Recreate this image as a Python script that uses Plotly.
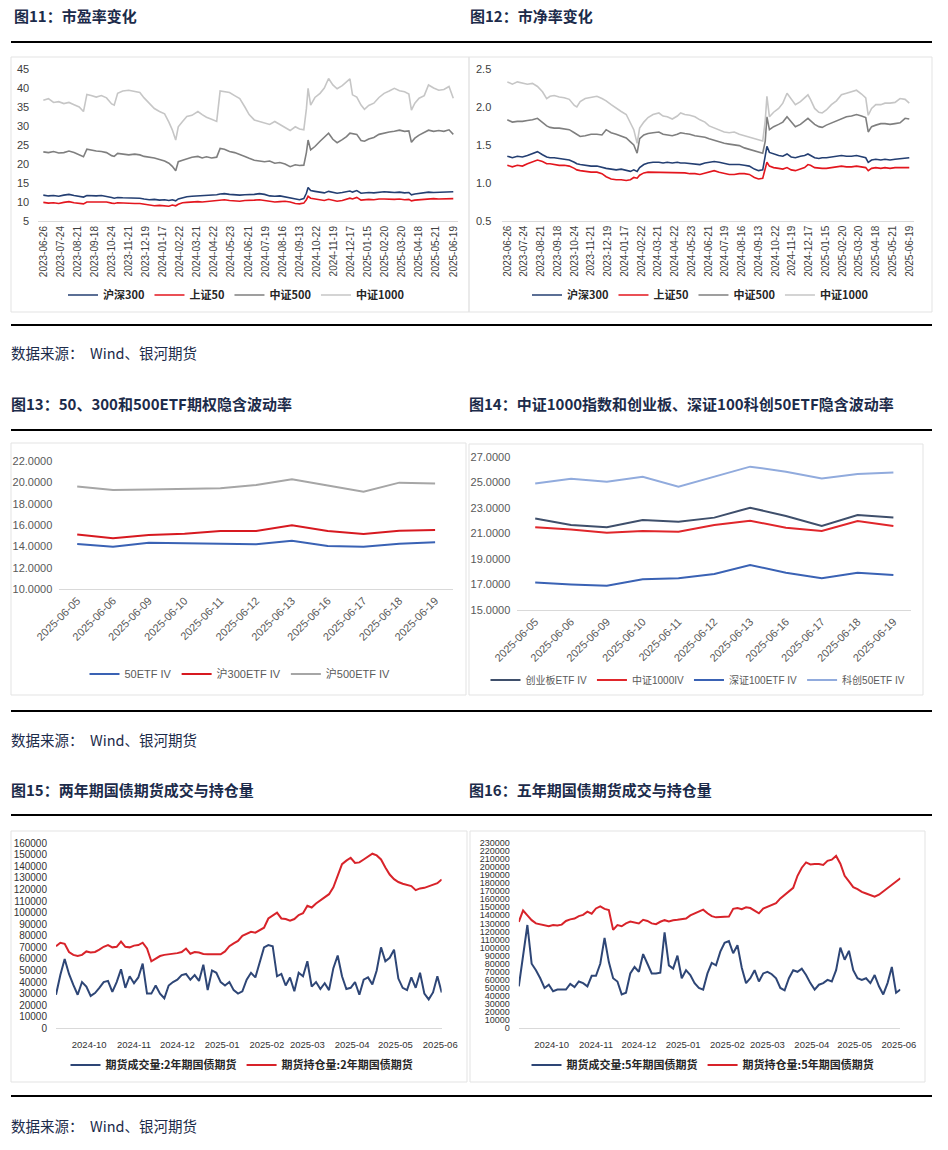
import plotly.graph_objects as go
import pandas as pd

W, H = 948, 1150

# ---------------- data: PE / PB (trading-day index, 20 days per label) ----------------
pe_tick_labels = ["2023-06-26", "2023-07-24", "2023-08-21", "2023-09-18", "2023-10-24", "2023-11-21",
                  "2023-12-19", "2024-01-17", "2024-02-22", "2024-03-21", "2024-04-22", "2024-05-23",
                  "2024-06-21", "2024-07-19", "2024-08-16", "2024-09-13", "2024-10-22", "2024-11-19",
                  "2024-12-17", "2025-01-15", "2025-02-20", "2025-03-20", "2025-04-18", "2025-05-21",
                  "2025-06-19"]
day_idx = [0, 6, 12, 18, 24, 30, 36, 42, 47, 51,
           56, 62, 68, 74, 80, 83, 87, 93, 100, 107,
           113, 118, 124, 130, 136, 142, 147, 151, 155, 158,
           163, 168, 174, 181, 186, 191, 197, 203, 207, 212,
           218, 224, 230, 236, 241, 247, 253, 259, 265, 271,
           277, 283, 289, 295, 300, 305, 308, 310, 313, 318,
           324, 329, 334, 339, 344, 350, 355, 359, 362, 367,
           372, 376, 381, 387, 393, 399, 405, 411, 417, 423,
           428, 431, 435, 440, 446, 451, 457, 463, 469, 475,
           480]

pe_hs300 = [11.8, 11.6, 11.7, 11.5, 11.8, 12.0, 11.7, 11.4, 11.3, 11.7,
            11.6, 11.6, 11.7, 11.5, 11.2, 11.0, 11.2, 11.1, 11.1, 11.0,
            11.0, 10.8, 10.6, 10.7, 10.5, 10.6, 10.4, 10.6, 10.3, 10.8,
            11.2, 11.4, 11.5, 11.6, 11.5, 11.7, 11.8, 11.9, 12.1, 12.2,
            12.0, 11.9, 11.8, 11.9, 11.9, 12.0, 12.2, 12.0, 11.6, 11.5,
            11.6, 11.3, 11.0, 10.8, 10.6, 10.9, 12.3, 13.8, 13.0, 12.8,
            12.6, 12.4, 12.8, 12.5, 12.3, 12.5, 12.7, 12.9, 12.6, 13.0,
            12.3, 12.4, 12.5, 12.4, 12.6, 12.7, 12.6, 12.5, 12.6, 12.4,
            12.5, 11.9, 12.1, 12.3, 12.4, 12.6, 12.5, 12.6, 12.6, 12.8,
            12.7]
pe_sz50 = [9.9, 9.7, 9.8, 9.6, 9.9, 10.1, 9.8, 9.6, 9.5, 10.0,
           10.0, 10.1, 10.1, 10.0, 9.7, 9.6, 9.8, 9.7, 9.7, 9.6,
           9.6, 9.4, 9.1, 9.0, 9.1, 9.0, 8.9, 9.2, 9.0, 9.4,
           9.8, 9.9, 10.0, 10.1, 10.0, 10.1, 10.3, 10.4, 10.5, 10.6,
           10.4, 10.3, 10.2, 10.4, 10.4, 10.5, 10.6, 10.4, 10.1, 10.0,
           10.1, 10.2, 10.0, 9.6, 9.5, 9.7, 10.6, 11.5, 11.0, 10.8,
           10.6, 10.4, 10.7, 10.5, 10.2, 10.4, 10.7, 11.0, 10.8, 11.2,
           10.5, 10.6, 10.7, 10.6, 10.8, 10.8, 10.7, 10.7, 10.8, 10.6,
           10.7, 10.3, 10.5, 10.6, 10.8, 10.9, 10.9, 10.8, 10.9, 11.0,
           10.9]
pe_csi500 = [23.2, 23.0, 23.3, 22.9, 23.0, 23.4, 23.0, 22.4, 21.9, 23.9,
             23.6, 23.4, 23.3, 23.0, 22.2, 22.0, 22.8, 22.6, 22.4, 22.6,
             22.4, 22.0, 21.8, 21.6, 21.2, 20.8, 20.2, 19.4, 18.2, 20.6,
             21.0, 21.4, 21.8, 22.0, 21.6, 21.9, 21.6, 21.8, 24.1, 23.9,
             23.3, 23.0, 22.6, 22.0, 21.5, 21.0, 20.8, 20.6, 20.8, 20.2,
             20.4, 20.0, 19.3, 19.8, 19.6, 19.7, 23.0, 26.3, 23.7, 24.6,
             26.0, 27.0, 28.1, 26.5, 25.6, 26.4, 27.2, 28.1, 28.0, 27.8,
             26.2, 26.0, 26.6, 27.0, 27.8, 28.2, 28.4, 28.6, 28.9, 28.6,
             28.7, 25.7, 26.8, 27.6, 28.2, 28.9, 28.6, 28.8, 28.6, 29.0,
             27.8]
pe_csi1000 = [36.8, 37.2, 36.2, 36.4, 35.9, 36.2, 35.6, 35.0, 33.8, 38.3,
              38.0, 37.6, 38.0, 37.4, 35.8, 35.5, 38.6, 39.2, 39.4, 39.0,
              38.8, 37.4, 36.0, 34.6, 33.8, 33.2, 31.0, 29.0, 26.3, 29.8,
              31.2, 32.5, 32.8, 33.8, 33.0, 32.3, 31.8, 31.2, 39.2, 39.0,
              38.8, 38.0, 37.2, 35.0, 33.0, 31.6, 31.2, 30.8, 30.4, 31.2,
              30.4, 29.8, 28.8, 29.8, 29.2, 29.0, 34.5, 39.9, 35.5, 37.5,
              38.6, 40.0, 42.5, 40.8, 39.8, 40.6, 41.5, 42.4, 38.2, 37.6,
              35.5, 34.4, 35.4, 36.0, 37.5, 38.6, 39.2, 39.9, 39.3, 39.0,
              38.4, 34.2, 36.0, 37.3, 38.0, 40.8, 40.0, 39.4, 39.6, 40.4,
              37.3]

pb_hs300 = [1.35, 1.33, 1.35, 1.34, 1.36, 1.38, 1.41, 1.37, 1.34, 1.33,
            1.33, 1.32, 1.31, 1.30, 1.27, 1.25, 1.24, 1.23, 1.22, 1.22,
            1.20, 1.19, 1.18, 1.17, 1.18, 1.16, 1.15, 1.17, 1.15, 1.20,
            1.24, 1.26, 1.27, 1.27, 1.26, 1.27, 1.26, 1.27, 1.26, 1.26,
            1.25, 1.25, 1.24, 1.26, 1.27, 1.28, 1.27, 1.25, 1.24, 1.24,
            1.24, 1.23, 1.22, 1.18, 1.16, 1.17, 1.35, 1.48, 1.40, 1.38,
            1.36, 1.35, 1.38, 1.34, 1.33, 1.35, 1.36, 1.38, 1.36, 1.33,
            1.32, 1.33, 1.33, 1.34, 1.35, 1.36, 1.35, 1.35, 1.36, 1.34,
            1.33, 1.27, 1.30, 1.31, 1.30, 1.31, 1.30, 1.31, 1.32, 1.33,
            1.33]
pb_sz50 = [1.23, 1.21, 1.23, 1.22, 1.25, 1.27, 1.30, 1.28, 1.25, 1.25,
           1.24, 1.23, 1.23, 1.22, 1.19, 1.17, 1.16, 1.15, 1.14, 1.14,
           1.12, 1.08, 1.05, 1.04, 1.04, 1.03, 1.04, 1.07, 1.06, 1.10,
           1.13, 1.14, 1.14, 1.13, 1.13, 1.14, 1.13, 1.14, 1.13, 1.13,
           1.12, 1.12, 1.11, 1.13, 1.14, 1.16, 1.14, 1.12, 1.11, 1.11,
           1.12, 1.12, 1.11, 1.07, 1.05, 1.06, 1.18, 1.27, 1.22, 1.20,
           1.19, 1.18, 1.20, 1.17, 1.16, 1.18, 1.20, 1.24, 1.23, 1.20,
           1.19, 1.19, 1.19, 1.20, 1.21, 1.22, 1.21, 1.21, 1.22, 1.21,
           1.20, 1.16, 1.19, 1.20, 1.19, 1.20, 1.19, 1.20, 1.20, 1.20,
           1.20]
pb_csi500 = [1.83, 1.80, 1.81, 1.81, 1.82, 1.83, 1.85, 1.80, 1.75, 1.73,
             1.72, 1.72, 1.71, 1.70, 1.66, 1.64, 1.61, 1.62, 1.64, 1.64,
             1.63, 1.70, 1.66, 1.64, 1.62, 1.59, 1.54, 1.50, 1.39, 1.58,
             1.63, 1.65, 1.66, 1.67, 1.64, 1.63, 1.62, 1.64, 1.66, 1.65,
             1.64, 1.62, 1.61, 1.60, 1.58, 1.56, 1.53, 1.52, 1.51, 1.50,
             1.49, 1.46, 1.44, 1.42, 1.41, 1.39, 1.55, 1.87, 1.70, 1.74,
             1.77, 1.80, 1.87, 1.80, 1.74, 1.77, 1.81, 1.85, 1.82, 1.77,
             1.74, 1.73, 1.76, 1.79, 1.82, 1.85, 1.87, 1.88, 1.90, 1.88,
             1.86, 1.67, 1.74, 1.76, 1.78, 1.78, 1.77, 1.78, 1.79, 1.85,
             1.84]
pb_csi1000 = [2.33, 2.30, 2.33, 2.31, 2.30, 2.31, 2.27, 2.20, 2.11, 2.14,
              2.15, 2.13, 2.12, 2.10, 2.02, 2.00, 2.07, 2.11, 2.13, 2.14,
              2.11, 2.08, 2.03, 1.98, 1.94, 1.90, 1.80, 1.70, 1.52, 1.72,
              1.80, 1.86, 1.90, 1.92, 1.88, 1.87, 1.84, 1.88, 1.92, 1.90,
              1.89, 1.87, 1.83, 1.80, 1.75, 1.72, 1.70, 1.67, 1.66, 1.67,
              1.64, 1.62, 1.60, 1.58, 1.57, 1.55, 1.82, 2.14, 1.87, 1.93,
              1.98, 2.05, 2.18, 2.10, 2.03, 2.07, 2.12, 2.16, 2.10, 1.98,
              1.93, 1.92, 1.96, 2.03, 2.08, 2.16, 2.18, 2.20, 2.22, 2.17,
              2.12, 1.89, 1.98, 2.03, 2.03, 2.05, 2.05, 2.06, 2.11, 2.10,
              2.05]

# ---------------- data: ETF implied volatility ----------------
iv_dates = ["2025-06-05", "2025-06-06", "2025-06-09", "2025-06-10", "2025-06-11", "2025-06-12",
            "2025-06-13", "2025-06-16", "2025-06-17", "2025-06-18", "2025-06-19"]
iv_50etf = [14.22, 13.97, 14.34, 14.28, 14.28, 14.19, 14.53, 14.03, 13.97, 14.25, 14.38]
iv_300etf = [15.12, 14.75, 15.06, 15.19, 15.44, 15.44, 15.97, 15.44, 15.16, 15.47, 15.53]
iv_500etf = [19.60, 19.28, 19.32, 19.38, 19.45, 19.75, 20.28, 19.70, 19.12, 19.97, 19.90]
iv_cyb = [22.17, 21.65, 21.47, 22.04, 21.91, 22.23, 23.01, 22.36, 21.57, 22.43, 22.25]
iv_csi1000 = [21.47, 21.31, 21.05, 21.18, 21.13, 21.65, 21.99, 21.44, 21.18, 21.96, 21.57]
iv_sz100 = [17.16, 17.00, 16.90, 17.40, 17.48, 17.82, 18.52, 17.92, 17.48, 17.92, 17.74]
iv_kc50 = [24.91, 25.28, 25.04, 25.43, 24.65, 25.43, 26.22, 25.83, 25.30, 25.64, 25.77]

# ---------------- data: treasury futures (every 3 calendar days) ----------------
bond_start = "2024-09-08"
bond_tick_labels = ["2024-10", "2024-11", "2024-12", "2025-01", "2025-02", "2025-03", "2025-04", "2025-05", "2025-06"]
vol_2y = [29000, 46000, 60000, 47000, 37500, 29000, 40000, 36000, 28000, 30500,
          35000, 40000, 41000, 31500, 40000, 51000, 35000, 45000, 39000, 44000,
          56000, 30000, 30000, 37000, 30000, 26000, 37000, 40000, 42000, 46000,
          47000, 42000, 46000, 41000, 55000, 33000, 50000, 48000, 40000, 37000,
          40000, 33000, 30000, 32000, 42000, 48000, 44000, 56000, 70000, 72000,
          71000, 45000, 47000, 37000, 44000, 32000, 48000, 45000, 58000, 36000,
          40000, 34000, 39000, 33000, 52000, 63000, 45000, 34000, 35000, 40000,
          29000, 42000, 44000, 38000, 50000, 70000, 58000, 61000, 68000, 43000,
          35000, 33000, 44000, 35000, 48000, 30000, 25000, 31000, 45000, 31000]
oi_2y = [71000, 74000, 73000, 66000, 63500, 62500, 63500, 66500, 65500, 66000,
         68000, 70500, 72000, 70000, 70500, 75000, 70500, 70000, 71500, 72000,
         74000, 69000, 58000, 60500, 62500, 63500, 64000, 64300, 65000, 66000,
         69000, 64500, 66000, 65500, 64300, 64000, 64000, 63400, 64000, 66500,
         71000, 73500, 75500, 80000, 82000, 83500, 82700, 84500, 87000, 95000,
         97500, 100000, 95000, 94500, 93000, 94500, 98000, 99500, 106000, 104500,
         108000, 110500, 113000, 116000, 122000, 132000, 142000, 145000, 147500, 143000,
         143500, 146000, 148500, 151000, 149500, 146000, 139000, 133000, 129000, 126500,
         125000, 123800, 123000, 119500, 121000, 121500, 123000, 124500, 125500, 128800]
vol_5y = [52000, 90000, 128000, 80000, 72000, 62000, 50000, 54000, 46000, 48000,
          48000, 48000, 55000, 51000, 58000, 56000, 52000, 65000, 65000, 80000,
          112000, 82000, 62000, 58000, 42000, 44000, 68000, 76000, 70000, 92000,
          80000, 68000, 68000, 69000, 119000, 78000, 74000, 90000, 62000, 72000,
          66000, 56000, 50000, 48000, 68000, 81000, 78000, 95000, 106000, 108000,
          93000, 103000, 75000, 56000, 62000, 72000, 58000, 68000, 70000, 67000,
          62000, 50000, 47000, 62000, 72000, 70000, 74000, 66000, 56000, 48000,
          54000, 56000, 60000, 58000, 72000, 100000, 85000, 96000, 72000, 62000,
          60000, 62000, 56000, 66000, 52000, 42000, 56000, 76000, 44000, 48000]
oi_5y = [132000, 146000, 140000, 134000, 130000, 129000, 128000, 126500, 128000, 127300,
         128500, 133000, 135000, 136000, 139000, 140500, 144500, 142000, 148500, 151000,
         148000, 146500, 122000, 128000, 126500, 130000, 132200, 131500, 130000, 134500,
         133000, 130000, 129000, 132000, 134000, 132500, 134000, 134500, 135000, 136000,
         140000, 142000, 144500, 147000, 142500, 139000, 137500, 138000, 138400, 138400,
         148000, 149000, 147500, 150000, 149000, 146000, 142500, 148500, 151000, 152500,
         155000, 161000, 165500, 169500, 174000, 189000, 199000, 205500, 203000, 203500,
         203500, 202500, 207500, 209000, 213600, 204000, 189000, 182000, 175000, 172500,
         169000, 167000, 165000, 163000, 165500, 169500, 173500, 177000, 182000, 186000]

for s in (pe_hs300, pe_sz50, pe_csi500, pe_csi1000, pb_hs300, pb_sz50, pb_csi500, pb_csi1000):
    assert len(s) == len(day_idx), len(s)
for s in (vol_2y, oi_2y, vol_5y, oi_5y):
    assert len(s) == 90, len(s)

bond_dates = pd.date_range(bond_start, periods=len(vol_2y), freq="3D")

# ---------------- helpers ----------------
def fx(p):
    return p / W


def fy(p):
    return 1 - p / H


CJK = "Noto Sans CJK SC"
SANS = "Liberation Sans, Arial, " + CJK
NARROW = "Liberation Sans Narrow, Liberation Sans, " + CJK
NAVY_TXT = "#1c2b4a"

C_NAVY = "#243f72"
C_RED = "#e3161e"
C_GRAY = "#7f7f7f"
C_LGRAY = "#c6c6c6"

fig = go.Figure()


def add(x, y, name, color, width, xa, ya, leg):
    fig.add_trace(go.Scatter(x=x, y=y, mode="lines", name=name,
                             line=dict(color=color, width=width),
                             xaxis=xa, yaxis=ya, legend=leg, hoverinfo="skip"))


# panel 1: PE
add(day_idx, pe_hs300, "<b>沪深300</b>", C_NAVY, 1.6, "x", "y", "legend")
add(day_idx, pe_sz50, "<b>上证50</b>", C_RED, 1.6, "x", "y", "legend")
add(day_idx, pe_csi500, "<b>中证500</b>", C_GRAY, 1.6, "x", "y", "legend")
add(day_idx, pe_csi1000, "<b>中证1000</b>", C_LGRAY, 1.6, "x", "y", "legend")
# panel 2: PB
add(day_idx, pb_hs300, "<b>沪深300</b>", C_NAVY, 1.6, "x2", "y2", "legend2")
add(day_idx, pb_sz50, "<b>上证50</b>", C_RED, 1.6, "x2", "y2", "legend2")
add(day_idx, pb_csi500, "<b>中证500</b>", C_GRAY, 1.6, "x2", "y2", "legend2")
add(day_idx, pb_csi1000, "<b>中证1000</b>", C_LGRAY, 1.6, "x2", "y2", "legend2")
# panel 3
add(iv_dates, iv_50etf, "50ETF IV", "#3a62b4", 2, "x3", "y3", "legend3")
add(iv_dates, iv_300etf, "沪300ETF IV", "#d71920", 2, "x3", "y3", "legend3")
add(iv_dates, iv_500etf, "沪500ETF IV", "#a6a6a6", 2, "x3", "y3", "legend3")
# panel 4
add(iv_dates, iv_cyb, "创业板ETF IV", "#3f4f6b", 2, "x4", "y4", "legend4")
add(iv_dates, iv_csi1000, "中证1000IV", "#e0262b", 2, "x4", "y4", "legend4")
add(iv_dates, iv_sz100, "深证100ETF IV", "#3a62b4", 2, "x4", "y4", "legend4")
add(iv_dates, iv_kc50, "科创50ETF IV", "#91abdd", 2, "x4", "y4", "legend4")
# panel 5
add(bond_dates, vol_2y, "<b>期货成交量:2年期国债期货</b>", "#2e4676", 2, "x5", "y5", "legend5")
add(bond_dates, oi_2y, "<b>期货持仓量:2年期国债期货</b>", "#d8232a", 2, "x5", "y5", "legend5")
# panel 6
add(bond_dates, vol_5y, "<b>期货成交量:5年期国债期货</b>", "#2e4676", 2, "x6", "y6", "legend6")
add(bond_dates, oi_5y, "<b>期货持仓量:5年期国债期货</b>", "#d8232a", 2, "x6", "y6", "legend6")

pe_tickvals = [20 * i for i in range(len(pe_tick_labels))]
bond_tickvals = [lab + "-01" for lab in bond_tick_labels]

common_x = dict(showgrid=False, zeroline=False, showline=True, linecolor="#d9d9d9", linewidth=1,
                ticks="", automargin=False)
common_y = dict(showgrid=False, zeroline=False, showline=False, ticks="", automargin=False)

tf_12 = dict(family=SANS, size=11, color="#404040")
tf_x12 = dict(family=SANS, size=10, color="#404040")
tf_34 = dict(family=NARROW, size=11, color="#595959")
tf_56 = dict(family=SANS, size=10, color="#333333")
tf_bx = dict(family=SANS, size=9.5, color="#333333")

fig.update_layout(
    width=W, height=H, margin=dict(l=0, r=0, t=0, b=0, pad=0, autoexpand=False),
    paper_bgcolor="white", plot_bgcolor="white", showlegend=True,
    xaxis=dict(common_x, domain=[fx(38.2), fx(458.4)], range=[-6, 486], tickvals=pe_tickvals,
               ticktext=pe_tick_labels, tickangle=-90, tickfont=tf_x12, anchor="y"),
    yaxis=dict(common_y, domain=[fy(221), fy(69)], range=[5, 45], dtick=5, tickfont=tf_12,
               anchor="x", ticklabelstandoff=8),
    xaxis2=dict(common_x, domain=[fx(502.3), fx(914.3)], range=[-6, 486], tickvals=pe_tickvals,
                ticktext=pe_tick_labels, tickangle=-90, tickfont=tf_x12, anchor="y2"),
    yaxis2=dict(common_y, domain=[fy(220.7), fy(69)], range=[0.5, 2.5], dtick=0.5, tick0=0.5,
                tickformat=".1f", tickfont=tf_12, anchor="x2", ticklabelstandoff=10),
    xaxis3=dict(common_x, type="category", domain=[fx(59.3), fx(453)], range=[-0.5, 10.5],
                tickangle=-45, tickfont=tf_34, anchor="y3"),
    yaxis3=dict(common_y, domain=[fy(589), fy(461)], range=[10, 22], dtick=2, tick0=10, tickformat=".4f",
                tickfont=tf_34, anchor="x3", ticklabelstandoff=6),
    xaxis4=dict(common_x, type="category", domain=[fx(517.3), fx(911.3)], range=[-0.5, 10.5],
                tickangle=-45, tickfont=tf_34, anchor="y4"),
    yaxis4=dict(common_y, domain=[fy(610), fy(456.7)], range=[15, 27], dtick=2, tick0=15, tickformat=".4f",
                tickfont=tf_34, anchor="x4", ticklabelstandoff=6),
    xaxis5=dict(common_x, type="date", domain=[fx(56), fx(441.7)], range=["2024-09-08", "2025-06-02"],
                tickvals=bond_tickvals, ticktext=bond_tick_labels, tickangle=0,
                tickfont=tf_bx, anchor="y5", ticklabelstandoff=7),
    yaxis5=dict(common_y, domain=[fy(1028.3), fy(843.3)], range=[0, 160000], dtick=10000, tickformat="d",
                tickfont=tf_56, anchor="x5", ticklabelstandoff=8),
    xaxis6=dict(common_x, type="date", domain=[fx(518.8), fx(900.4)], range=["2024-09-08", "2025-06-02"],
                tickvals=bond_tickvals, ticktext=bond_tick_labels, tickangle=0,
                tickfont=tf_bx, anchor="y6", ticklabelstandoff=7),
    yaxis6=dict(common_y, domain=[fy(1028.3), fy(842.7)], range=[0, 230000], dtick=10000, tickformat="d",
                tickfont=dict(family=SANS, size=9, color="#333333"), anchor="x6", ticklabelstandoff=8),
)

leg_common = dict(orientation="h", xanchor="center", yanchor="middle", bgcolor="rgba(0,0,0,0)",
                  itemwidth=30, traceorder="normal", itemclick=False)
fig.update_layout(
    legend=dict(leg_common, x=fx(236), y=fy(295), font=dict(family=CJK, size=11, color="#262626")),
    legend2=dict(leg_common, x=fx(700), y=fy(295), font=dict(family=CJK, size=11, color="#262626")),
    legend3=dict(leg_common, x=fx(240), y=fy(674), font=dict(family=NARROW, size=11, color="#595959")),
    legend4=dict(leg_common, x=fx(698), y=fy(680), font=dict(family=NARROW, size=10, color="#595959")),
    legend5=dict(leg_common, x=fx(242), y=fy(1065), font=dict(family=CJK, size=11, color="#262626")),
    legend6=dict(leg_common, x=fx(703), y=fy(1065), font=dict(family=CJK, size=11, color="#262626")),
)

shapes = []
for yy in (42, 325, 430, 711, 815, 1096):
    shapes.append(dict(type="line", xref="paper", yref="paper", x0=fx(11), x1=fx(932),
                       y0=fy(yy), y1=fy(yy), line=dict(color="black", width=2.2)))
for (x0, y0, x1, y1) in ((11, 57, 469, 312), (469, 57, 932, 312),
                         (11, 443, 466, 695), (469, 444, 923, 695),
                         (11, 831, 467, 1082), (470, 831, 925, 1082)):
    shapes.append(dict(type="rect", xref="paper", yref="paper", x0=fx(x0), x1=fx(x1),
                       y0=fy(y1), y1=fy(y0), line=dict(color="#e3e3e3", width=1), layer="below"))
fig.update_layout(shapes=shapes)

titles = [(12, 15, "图11：市盈率变化"), (468, 15, "图12：市净率变化"),
          (9, 403, "图13：50、300和500ETF期权隐含波动率"),
          (467, 403, "图14：中证1000指数和创业板、深证100科创50ETF隐含波动率"),
          (9, 789, "图15：两年期国债期货成交与持仓量"), (467, 789, "图16：五年期国债期货成交与持仓量")]
ann = []
for (x, y, t) in titles:
    ann.append(dict(xref="paper", yref="paper", x=fx(x), y=fy(y), xanchor="left", yanchor="middle",
                    text="<b>" + t + "</b>", showarrow=False,
                    font=dict(family=CJK, size=15, color=NAVY_TXT)))
for y in (352, 739, 1125):
    ann.append(dict(xref="paper", yref="paper", x=fx(9), y=fy(y), xanchor="left", yanchor="middle",
                    text="数据来源：  Wind、银河期货", showarrow=False,
                    font=dict(family=CJK, size=14.5, color=NAVY_TXT)))
fig.update_layout(annotations=ann)

fig.write_html("out.html", config={"displayModeBar": False},
               post_script="document.body.style.margin='0px';")
